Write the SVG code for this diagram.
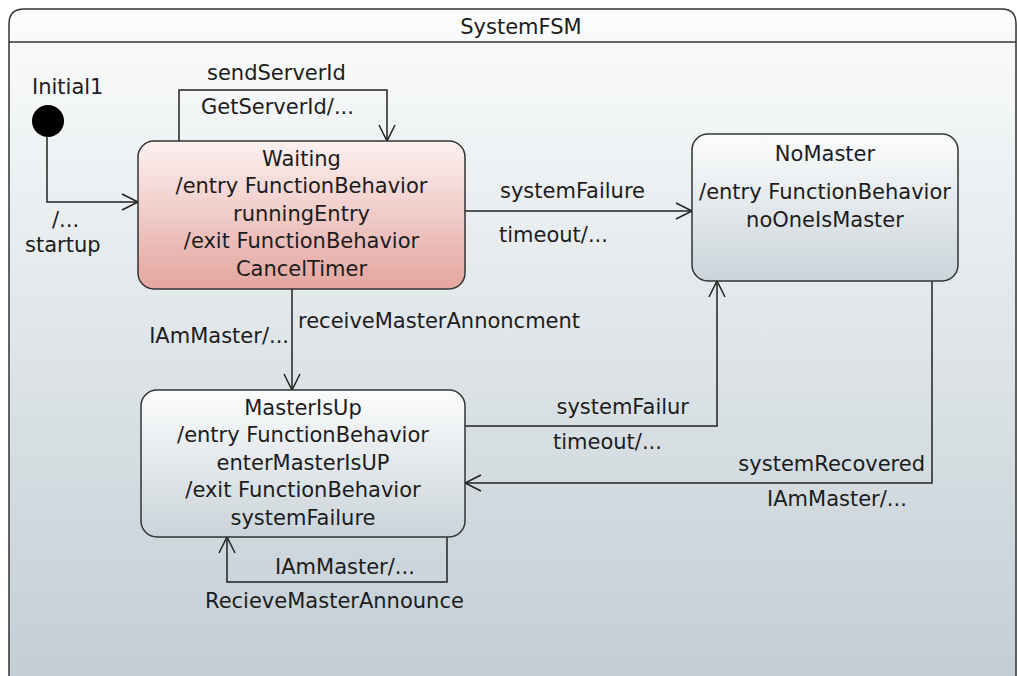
<svg xmlns="http://www.w3.org/2000/svg" width="1018" height="676" viewBox="0 0 1018 676">
<defs>
<linearGradient id="gBg" x1="0" y1="0" x2="0" y2="1"><stop offset="0" stop-color="#fbfcfc"/><stop offset="1" stop-color="#c3ced5"/></linearGradient>
<linearGradient id="gWait" x1="0" y1="0" x2="0" y2="1"><stop offset="0" stop-color="#fcf1f0"/><stop offset="1" stop-color="#e4a59f"/></linearGradient>
<linearGradient id="gState" x1="0" y1="0" x2="0" y2="1"><stop offset="0" stop-color="#fbfcfc"/><stop offset="1" stop-color="#cbd4da"/></linearGradient>
<marker id="arr" viewBox="0 0 20 20" refX="18" refY="10" markerWidth="20" markerHeight="20" markerUnits="userSpaceOnUse" orient="auto"><path d="M2,2 L18,10 L2,18" fill="none" stroke="#222" stroke-width="1.5"/></marker>
<style>
text{font-family:"DejaVu Sans",sans-serif;font-size:21px;fill:#1c1c1c}
.c{text-anchor:middle}
.r{text-anchor:end}
.box{stroke:#333;stroke-width:1.5}
.ln{fill:none;stroke:#222;stroke-width:1.5;marker-end:url(#arr)}
</style>
</defs>
<g id="frame">
<path d="M9,676 L9,24 Q9,9 24,9 L1002,9 Q1016,9 1016,24 L1016,676" fill="url(#gBg)" stroke="#333" stroke-width="1.5"/>
<line x1="9" y1="42" x2="1016" y2="42" stroke="#333" stroke-width="1.5"/>
<text class="c" x="521" y="34">SystemFSM</text>
</g>
<g id="connectors">
<path class="ln" d="M47,137 L47,202 L138,202"/>
<path class="ln" d="M179,141 L179,90 L387,90 L387,141"/>
<path class="ln" d="M465,211 L692,211"/>
<path class="ln" d="M292,289 L292,390"/>
<path class="ln" d="M465,426 L717,426 L717,281"/>
<path class="ln" d="M932,281 L932,483 L465,483"/>
<path class="ln" d="M447,537 L447,582 L227,582 L227,537"/>
<text x="207" y="80">sendServerId</text>
<text x="201" y="114">GetServerId/...</text>
<text x="52" y="227">/...</text>
<text x="25" y="252">startup</text>
<text x="500" y="198">systemFailure</text>
<text x="499" y="242">timeout/...</text>
<text x="298" y="328">receiveMasterAnnoncment</text>
<text class="r" x="289" y="343">IAmMaster/...</text>
<text class="r" x="689" y="414">systemFailur</text>
<text x="553" y="449">timeout/...</text>
<text class="r" x="925" y="471">systemRecovered</text>
<text x="767" y="506">IAmMaster/...</text>
<text x="275" y="574">IAmMaster/...</text>
<text x="205" y="608">RecieveMasterAnnounce</text>
</g>
<g id="initial1">
<circle cx="48" cy="121" r="16" fill="#000"/>
<text x="32" y="94">Initial1</text>
</g>
<g id="waiting">
<rect class="box" x="138" y="141" width="327" height="148" rx="16" fill="url(#gWait)"/>
<text class="c" x="301.5" y="166">Waiting</text>
<text class="c" x="301.5" y="193">/entry FunctionBehavior</text>
<text class="c" x="301.5" y="221">runningEntry</text>
<text class="c" x="301.5" y="248">/exit FunctionBehavior</text>
<text class="c" x="301.5" y="276">CancelTimer</text>
</g>
<g id="nomaster">
<rect class="box" x="692" y="134" width="266" height="147" rx="16" fill="url(#gState)"/>
<text class="c" x="825" y="161">NoMaster</text>
<text class="c" x="825" y="199">/entry FunctionBehavior</text>
<text class="c" x="825" y="227">noOneIsMaster</text>
</g>
<g id="masterisup">
<rect class="box" x="141" y="390" width="324" height="147" rx="16" fill="url(#gState)"/>
<text class="c" x="303" y="415">MasterIsUp</text>
<text class="c" x="303" y="442">/entry FunctionBehavior</text>
<text class="c" x="303" y="470">enterMasterIsUP</text>
<text class="c" x="303" y="497">/exit FunctionBehavior</text>
<text class="c" x="303" y="525">systemFailure</text>
</g>
</svg>
